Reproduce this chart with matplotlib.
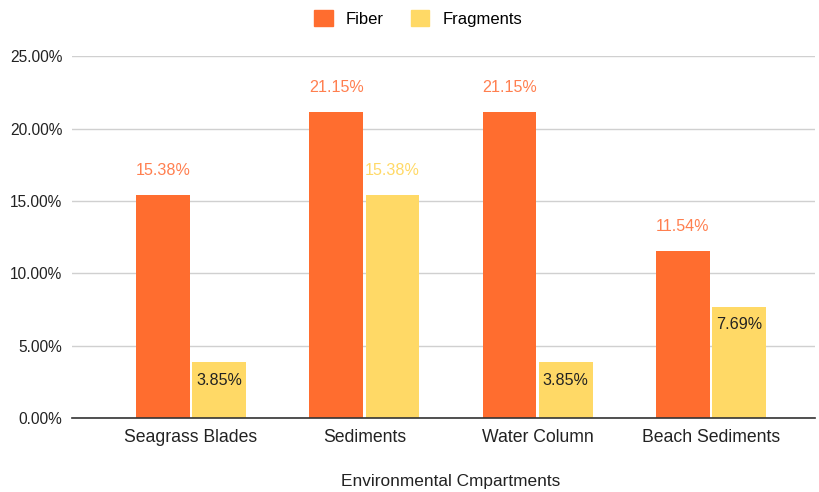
import matplotlib
matplotlib.use("Agg")
import matplotlib.pyplot as plt
from matplotlib.patches import Patch
import numpy as np

plt.rcParams['font.family'] = ['Liberation Sans', 'DejaVu Sans']

categories = ["Seagrass Blades", "Sediments", "Water Column", "Beach Sediments"]
fiber = [15.38, 21.15, 21.15, 11.54]
fragments = [3.85, 15.38, 3.85, 7.69]
yticks = [0, 5, 10, 15, 20, 25]

c_fiber = "#FF6D2F"
c_frag = "#FFD966"
c_fiber_lbl = "#FF7F4F"

fig = plt.figure(figsize=(8.2, 4.92), dpi=100)
ax = fig.add_axes([0.088, 0.150, 0.906, 0.736])

x = np.arange(len(categories))
w = 0.31
off = 0.162
ax.bar(x - off, fiber, width=w, color=c_fiber, zorder=3)
ax.bar(x + off, fragments, width=w, color=c_frag, zorder=3)

for xi, v in zip(x, fiber):
    ax.text(xi - off, v + 1.7, f"{v:.2f}%", ha="center", va="center",
            fontsize=11.6, color=c_fiber_lbl)
for xi, v in zip(x, fragments):
    if v > 10:
        ax.text(xi + off, v + 1.7, f"{v:.2f}%", ha="center", va="center",
                fontsize=11.6, color=c_frag)
    else:
        ax.text(xi + off, v - 1.25, f"{v:.2f}%", ha="center", va="center",
                fontsize=11.6, color="#222222")

ax.set_ylim(0, 25)
ax.set_xlim(-0.685, 3.6)
ax.set_yticks(yticks)
ax.set_yticklabels([f"{t:.2f}%" for t in yticks])
ax.set_xticks(x)
ax.set_xticklabels(categories)
ax.tick_params(axis="both", length=0, colors="#222222")
ax.tick_params(axis="y", pad=7, labelsize=11.2)
ax.tick_params(axis="x", pad=8, labelsize=12.7)
ax.yaxis.grid(True, color="#D0D0D0", linewidth=1, zorder=0)
for s in ["top", "right", "left"]:
    ax.spines[s].set_visible(False)
ax.spines["bottom"].set_color("#333333")
ax.spines["bottom"].set_linewidth(1.2)
ax.spines["bottom"].set_zorder(4)

ax.set_xlabel("Environmental Cmpartments", fontsize=12.4, color="#222222")
ax.xaxis.set_label_coords(0.51, -0.155)

handles = [Patch(color=c_fiber, label="Fiber"), Patch(color=c_frag, label="Fragments")]
fig.legend(handles=handles, loc="center", bbox_to_anchor=(0.51, 0.962), ncol=2,
           frameon=False, fontsize=12, handlelength=1.1, handleheight=1.1,
           columnspacing=1.6, handletextpad=0.8)

fig.savefig("out.png", dpi=100)
